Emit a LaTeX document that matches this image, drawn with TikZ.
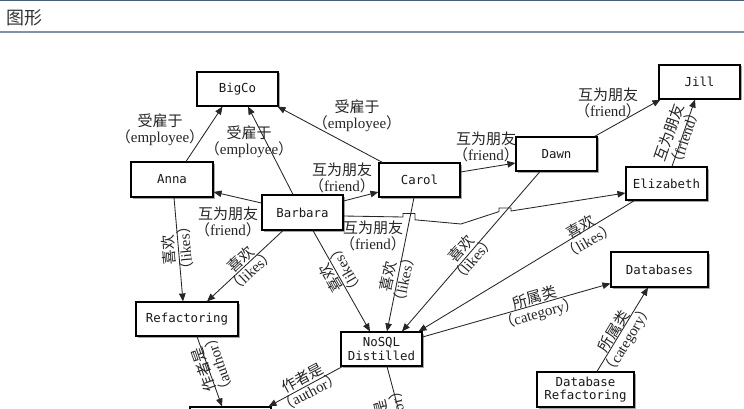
\documentclass[tikz,border=0pt]{standalone}
\usepackage{fontspec}
\setmainfont{Liberation Serif}
\newfontfamily\cjk{Noto Sans CJK SC}
\newfontfamily\mono{DejaVu Sans Mono}
\usetikzlibrary{arrows.meta,shadows}
\newcommand{\mylab}[2]{{\cjk #1}\\{\cjk （}#2{\cjk ）}}
\begin{document}
\begin{tikzpicture}[x=1pt,y=-1pt,
  box/.style={draw=black, line width=1.1pt, fill=white, minimum width=81pt, minimum height=34pt,
    inner sep=0pt, align=center, font=\mono\fontsize{12.4}{13.5}\selectfont, text=black!90,
    drop shadow={shadow xshift=1.5pt, shadow yshift=-1.5pt, opacity=.35, fill=black}},
  conn/.style={draw=black!85, line width=0.85pt, -{Triangle[length=8pt,width=6.5pt]}},
  lab/.style={align=center, inner sep=0pt, text=black!85, font=\fontsize{15}{16}\selectfont},
  hdr/.style={line width=1.5pt}]
\useasboundingbox (0,0) rectangle (744,409);
\fill[white] (0,0) rectangle (744,409);
\clip (0,0) rectangle (744,409);
% header
\draw[hdr, draw={rgb,255:red,72;green,94;blue,122}] (0,0.75) -- (744,0.75);
\node[anchor=west, inner sep=0pt, text=black!80, font=\cjk\fontsize{18}{18}\selectfont] (title) at (6,18) {图形};
\draw[hdr, draw={rgb,255:red,128;green,146;blue,168}] (0,32) -- (744,32);
% nodes
\node[box] (bigco) at (237.5,89) {BigCo};
\node[box, minimum width=82pt, minimum height=35pt] (anna) at (172,179.5) {Anna};
\node[box, minimum height=35pt] (barbara) at (302.5,212.5) {Barbara};
\node[box] (carol) at (419.5,180) {Carol};
\node[box] (dawn) at (556.5,154) {Dawn};
\node[box] (jill) at (699.5,82) {Jill};
\node[box, minimum height=33pt] (elizabeth) at (666.5,183.5) {Elizabeth};
\node[box, minimum width=102pt] (refactoring) at (187,319) {Refactoring};
\node[box] (nosql) at (381.5,349) {NoSQL\\Distilled};
\node[box, minimum width=97pt, minimum height=35pt] (databases) at (659.5,269.5) {Databases};
\node[box, minimum width=97pt, minimum height=35pt] (dbref) at (585.5,389.5) {Database\\Refactoring};
\node[box, minimum height=35pt] (martin) at (230.5,424.5) {};
\coordinate (pramod) at (404,430);
% connectors
\draw[conn] ([xshift=14pt]anna.north) -- ([xshift=-15pt]bigco.south);
\draw[conn] ([xshift=-9.5pt]barbara.north) -- ([xshift=10.5pt]bigco.south);
\draw[conn] ([xshift=4pt]carol.north west) -- ([xshift=-1pt]bigco.south east);
\draw[conn] ([yshift=9.5pt]barbara.west) -- ([yshift=-12.5pt]anna.east);
\draw[conn] ([yshift=11.5pt]barbara.east) -- ([yshift=-12pt]carol.west);
\draw[conn] ([yshift=8pt]carol.east) -- ([yshift=-9pt]dawn.west);
\draw[conn] ([xshift=-3pt]dawn.north east) -- ([xshift=2pt]jill.south west);
\draw[conn] ([xshift=5.5pt]elizabeth.north) -- ([xshift=-4.5pt]jill.south);
\draw[conn] ([yshift=-3.5pt]barbara.east) -- (403,217) -- (403,213.5) -- (415,213.5) -- (415,219.8)
   -- (461,224) -- (499,211.6) -- (499,208) -- (511,208) -- (511,211) -- ([yshift=-9.5pt]elizabeth.west);
\draw[conn] ([xshift=2pt]anna.south) -- ([xshift=-4pt]refactoring.north);
\draw[conn] ([xshift=-19.5pt]barbara.south) -- ([xshift=20pt]refactoring.north);
\draw[conn] ([xshift=10.5pt]barbara.south) -- ([xshift=-11.5pt]nosql.north);
\draw[conn] ([xshift=-5.5pt]carol.south) -- ([xshift=5.5pt]nosql.north);
\draw[conn] ([xshift=-16.5pt]dawn.south) -- ([xshift=20.5pt]nosql.north);
\draw[conn] ([xshift=9pt]elizabeth.south west) -- ([xshift=-4pt]nosql.north east);
\draw[conn] ([yshift=12pt]nosql.east) -- ([yshift=-14pt]databases.west);
\draw[conn] ([xshift=11.5pt]dbref.north) -- ([xshift=-11.5pt]databases.south);
\draw[conn] ([xshift=10pt]refactoring.south) -- ([xshift=-8.5pt]martin.north);
\draw[conn] ([xshift=2pt]nosql.south west) -- ([xshift=-3pt]martin.north east);
\draw[conn] ([xshift=5.5pt]nosql.south) -- (pramod);
% labels
\node[lab] (l1) at (160,130) {\mylab{受雇于}{employee}};
\node[lab] (l2) at (249,142) {\mylab{受雇于}{employee}};
\node[lab] (l3) at (357,116) {\mylab{受雇于}{employee}};
\node[lab] (l4) at (228,222) {\mylab{互为朋友}{friend}};
\node[lab] (l5) at (342,178) {\mylab{互为朋友}{friend}};
\node[lab] (l6) at (486,147) {\mylab{互为朋友}{friend}};
\node[lab] (l7) at (608,103) {\mylab{互为朋友}{friend}};
\node[lab, rotate=71] (l8) at (677,135) {\mylab{互为朋友}{friend}};
\node[lab] (l9) at (373,236) {\mylab{互为朋友}{friend}};
\node[lab, rotate=95] (l10) at (177,249) {\mylab{喜欢}{likes}};
\node[lab, rotate=43] (l11) at (246,265) {\mylab{喜欢}{likes}};
\node[lab, rotate=120] (l12) at (338,274) {\mylab{喜欢}{likes}};
\node[lab, rotate=78] (l13) at (396,278) {\mylab{喜欢}{likes}};
\node[lab, rotate=49] (l14) at (467,254) {\mylab{喜欢}{likes}};
\node[lab, rotate=30] (l15) at (585,234) {\mylab{喜欢}{likes}};
\node[lab, rotate=16] (l16) at (537,306) {\mylab{所属类}{category}};
\node[lab, rotate=59] (l17) at (621,336) {\mylab{所属类}{category}};
\node[lab, rotate=109] (l18) at (211,367) {\mylab{作者是}{author}};
\node[lab, rotate=28] (l19) at (306,385) {\mylab{作者是}{author}};
\node[lab, rotate=105] (l20) at (393,420) {\mylab{作者是}{author}};
\end{tikzpicture}
\end{document}
